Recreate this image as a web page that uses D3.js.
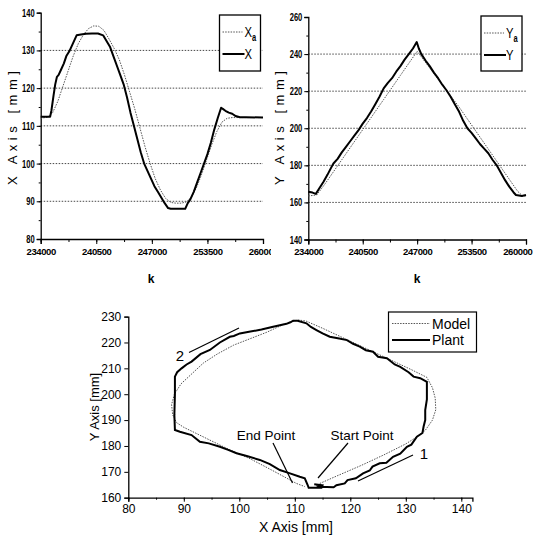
<!DOCTYPE html>
<html><head><meta charset="utf-8">
<script src="https://cdn.jsdelivr.net/npm/d3@7"></script>
<style>
html,body{margin:0;padding:0;background:#fff;}
svg{display:block;}
.narrow{font-family:'Liberation Sans','DejaVu Sans',sans-serif;}
.arial{font-family:'Liberation Sans',Arial,sans-serif;}
</style></head>
<body><svg id="c" width="536" height="539"></svg>
<script>
// ---------- Top-left: X vs k ----------
const kTicks = [234000, 240500, 247000, 253500, 260000];
const xTicksTop = [80, 90, 100, 110, 120, 130, 140];
const yTicksTop = [140, 160, 180, 200, 220, 240, 260];

const kPlantX = [234000,235100,235250,235500,235700,235900,236100,236400,236700,237000,237400,237800,238200,238700,239300,240000,240700,241300,241700,242100,242500,242900,243300,243700,244100,244500,244900,245300,245700,246100,246500,246900,247300,247700,248100,248500,248900,249200,250900,251200,251500,251900,252300,252700,253100,253500,253900,254300,254700,255100,255300,255600,256000,256400,256800,257300,258000,260000];
const plantX = [112.4,112.4,114,118,121,123,123.5,125,126.5,128.5,130,132,134,134.2,134.4,134.5,134.5,134,132.5,131,128.5,126,123.5,121,117.5,113.5,110,106.5,103,100,98,96,94,92.5,91,89.5,88.2,88,88,89.5,90.5,92.5,95,97.5,100,102.5,105.5,109,112,114.8,114.5,114,113.5,113.2,112.6,112.3,112.3,112.2];

const kModelX = [234000,234800,235400,236000,236600,237200,237800,238400,239000,239600,240200,240800,241400,242000,242600,243200,243800,244400,245000,245600,246200,246800,247400,248000,248600,249200,249800,250400,251000,251600,252200,252800,253400,254000,254600,255200,255800,256400,257500,260000];
const modelX = [112,112.3,113.5,116.5,120.5,124.5,128.5,131.8,134.2,135.8,136.5,136.4,135.3,133,130.5,127.5,123.5,119,114.5,109.5,104.5,100,96,93,90.8,89.7,89.5,89.5,89.8,91,93.5,97,101,105,108.5,111,112,112.2,112.2,112.2];

// ---------- Top-right: Y vs k ----------
const kPlantY = [234000,234500,234900,235300,235800,236300,236700,237000,237500,238000,238500,239000,239500,240000,240500,241000,241500,242000,242500,243000,243500,244000,244500,245000,245500,246000,246500,246950,247200,247500,248000,248500,249000,249500,250000,250500,251000,251500,252000,252500,253000,253500,254000,254500,255000,255500,256000,256500,257000,257500,258000,258500,258800,259500,260000];
const plantY = [165.8,165.3,164.6,167.5,171,175,178.5,181,183.5,187,190,193,196,199,202.5,205.5,209,213,217,221.5,224.5,227,230.5,233.5,237,240,243,246.5,243,240,236.5,233.5,230,227,223.5,220.5,217,213,209,204,200,197.5,194.5,191.5,189,186.5,183,180,176,172,168.5,165.5,164,163.5,164];

const kModelY = [234000,235000,236000,237000,238000,239000,240000,241000,242000,243000,244000,245000,246000,247000,248000,249000,250000,251000,252000,253000,254000,255000,256000,257000,258000,259000,259600,260000];
const modelY = [163.5,164,170,176.5,183,189.5,196,202.5,209,215.5,222,228.5,235,241.5,235.5,229.5,223.5,217.5,211.5,205,198.5,192,185.5,179,172.5,166,163.5,163.5];

// ---------- Bottom: XY trajectory ----------
const xTicksBot = [80, 90, 100, 110, 120, 130, 140];
const yTicksBot = [160, 170, 180, 190, 200, 210, 220, 230];
const plantPathX = [113.9,114.5,117,117.5,119,119.5,121,122.3,123.5,124,125.3,126.5,127.7,129,130.2,131,132,133,133.2,133.5,133.5,133.8,133.8,132.6,131.4,130.5,129,128,126.6,125,124.1,122.8,121.7,120.5,119.4,118,116.3,115,113.9,112.9,112.1,110.5,109.7,109.2,108.5,106.1,104,102,100.1,99,98.3,96.5,94.7,93,91.4,90.5,89.6,88.8,88.4,88.4,88.3,88.4,89.3,91.4,92.9,94.5,96.5,98,99.5,101.5,103.7,105.5,107.3,109,110.9,111.8,112.3,112.5,114.8,115,113.5];
const plantPathY = [164.9,164.2,164,164.8,165.5,166.8,167.5,169.4,170.5,172,173.3,173.5,175.8,177,179.7,180.5,183.6,185,187.4,190,193.9,198,204.8,206.2,206.8,208.5,210.6,211.5,213.9,214.5,216.4,217,218.4,219.5,220.9,221.5,222.2,223.5,224.8,226,227.4,228.4,228.4,227.8,227.2,226.1,225,224.2,223.5,222.5,222.2,220,217.1,215.5,212.6,211.5,210,208.5,206.8,200,192,186.2,185.5,184.2,181.6,181,179.7,178.5,177.2,176,174.6,173,170.7,169.5,168.1,167.5,165,163.8,163.8,164.8,165.2];
const modelPathX = [114.5,118,122,126,130,132,133.5,134.8,135.4,135.3,134.8,133.8,131,127,123,119,115,112,110.6,108,105,102,99,96,93.5,91.5,89.5,88.3,87.8,88,88.7,90,94,98,102,106,110.3,111.8];
const modelPathY = [165.5,168.8,172.5,176.5,180.8,183.5,186,190,194,198.5,202.5,206.5,209.5,213.5,217.5,221.5,225.5,228.3,228.7,227,224,221.5,219,215.5,212,208,204,200,196,192,189,187.2,183,178.8,175,170.5,165.5,164.3];

const svg = d3.select('#c');

function condense(sel, perChar){
  sel.each(function(){
    const t = d3.select(this);
    const n = (t.text() || '').length;
    if (n) t.attr('textLength', n*perChar).attr('lengthAdjust','spacingAndGlyphs');
  });
}

function topChart(opts){
  const g = svg.append('g');
  if (opts.clip){
    svg.append('clipPath').attr('id', opts.clip).append('rect').attr('x',0).attr('y',0).attr('width',opts.clipW).attr('height',300);
    g.attr('clip-path', `url(#${opts.clip})`);
  }
  const x = d3.scaleLinear().domain([234000,260000]).range([opts.x0, opts.x1]);
  const y = d3.scaleLinear().domain(opts.yDomain).range([opts.y1, opts.y0]);
  // grid
  g.append('g').selectAll('line').data(opts.grid).join('line')
    .attr('x1', opts.x0).attr('x2', opts.x1)
    .attr('y1', d=>y(d)).attr('y2', d=>y(d))
    .attr('stroke','#333').attr('stroke-width',0.9).attr('stroke-dasharray','1.5,1.5');
  // y axis
  const yMinor = d3.range(opts.yDomain[0], opts.yDomain[1]+0.001, opts.yStep/2);
  const ya = g.append('g').attr('transform',`translate(${opts.x0},0)`)
    .call(d3.axisLeft(y).tickValues(yMinor).tickSize(2).tickFormat(''));
  ya.select('.domain').remove();
  ya.selectAll('line').attr('stroke','#000');
  const yb = g.append('g').attr('transform',`translate(${opts.x0},0)`)
    .call(d3.axisLeft(y).tickValues(opts.yTicks).tickSize(4).tickPadding(2));
  yb.select('.domain').attr('stroke','#000').attr('stroke-width',1.3);
  yb.selectAll('text').attr('class','narrow').attr('font-size',11).attr('fill','#000').attr('font-weight','bold').call(condense, 4.2);
  // x axis
  const kMinor = d3.range(234000, 260001, 3250);
  const xa = g.append('g').attr('transform',`translate(0,${opts.y1})`)
    .call(d3.axisBottom(x).tickValues(kMinor).tickSize(3).tickFormat(''));
  xa.select('.domain').remove();
  const xb = g.append('g').attr('transform',`translate(0,${opts.y1})`)
    .call(d3.axisBottom(x).tickValues(kTicks).tickSize(5).tickPadding(4).tickFormat(d3.format('d')));
  xb.select('.domain').attr('stroke','#000').attr('stroke-width',1.3);
  xb.selectAll('text').attr('class','narrow').attr('font-size',9.5).attr('fill','#000').attr('font-weight','bold').attr('letter-spacing',-0.4);
  if (opts.lastEnd){
    xb.selectAll('text').filter(d=>d===260000).attr('text-anchor','end').attr('x', 532 - opts.x1);
  }
  // lines
  const line = d3.line().x(d=>x(d[0])).y(d=>y(d[1]));
  g.append('path').datum(opts.kModel.map((k,i)=>[k,opts.model[i]])).attr('d',line)
    .attr('fill','none').attr('stroke','#555').attr('stroke-width',1).attr('stroke-dasharray','1.5,1.2');
  g.append('path').datum(opts.kPlant.map((k,i)=>[k,opts.plant[i]])).attr('d',line)
    .attr('fill','none').attr('stroke','#000').attr('stroke-width',2).attr('stroke-linejoin','round');
  // titles
  svg.append('text').attr('class','arial').attr('transform',`translate(${opts.titleX},${opts.titleY}) rotate(-90)`)
    .attr('text-anchor','middle').attr('font-size',13).attr('textLength',114).attr('lengthAdjust','spacing').text(opts.title);
  svg.append('text').attr('class','narrow').attr('x',opts.kX).attr('y',283).attr('text-anchor','middle')
    .attr('font-size',12).attr('font-weight','bold').text('k');
  // legend
  const L = opts.leg;
  svg.append('rect').attr('x',L.x).attr('y',L.y).attr('width',L.w).attr('height',L.h)
    .attr('fill','#fff').attr('stroke','#000').attr('stroke-width',1.3);
  svg.append('line').attr('x1',L.x+3).attr('x2',L.x+23).attr('y1',L.y+17).attr('y2',L.y+17)
    .attr('stroke','#555').attr('stroke-dasharray','1.5,1.2');
  svg.append('line').attr('x1',L.x+3).attr('x2',L.x+25).attr('y1',L.y+39).attr('y2',L.y+39)
    .attr('stroke','#000').attr('stroke-width',2);
  const t1 = svg.append('text').attr('class','narrow').attr('transform',`translate(${L.x+25},${L.y+22}) scale(0.75,1)`).attr('font-size',15);
  t1.append('tspan').text(opts.sym);
  t1.append('tspan').attr('font-size',10).attr('font-weight','bold').attr('dy',4).text('a');
  svg.append('text').attr('class','narrow').attr('transform',`translate(${L.x+25},${L.y+44}) scale(0.75,1)`).attr('font-size',15).text(opts.sym);
}

topChart({x0:40.7, x1:263, y0:12.7, y1:239, yDomain:[80,140], yStep:10, yTicks:xTicksTop, grid:[90,100,110,120,130],
  kPlant:kPlantX, plant:plantX, kModel:kModelX, model:modelX, title:'X Axis [mm]', titleX:17, titleY:128, kX:151,
  leg:{x:219.5,y:15,w:41,h:56}, sym:'X', clip:'clipL', clipW:271});
topChart({x0:308.3, x1:526, y0:17, y1:239.5, yDomain:[140,260], yStep:20, yTicks:yTicksTop, grid:[160,180,200,220,240],
  kPlant:kPlantY, plant:plantY, kModel:kModelY, model:modelY, title:'Y Axis [mm]', titleX:284, titleY:128, kX:417,
  leg:{x:481,y:16,w:41,h:55}, sym:'Y', lastEnd:true});

// ---------- Bottom chart ----------
const bx = d3.scaleLinear().domain([80,142]).range([128.3, 472.4]);
const by = d3.scaleLinear().domain([160,230]).range([497.7, 316.6]);
const gb = svg.append('g');
const bxMinor = d3.range(80, 141, 5);
const bxa = gb.append('g').attr('transform','translate(0,497.7)')
  .call(d3.axisBottom(bx).tickValues(bxMinor).tickSize(2).tickFormat(''));
bxa.select('.domain').remove();
const bxb = gb.append('g').attr('transform','translate(0,497.7)')
  .call(d3.axisBottom(bx).tickValues(xTicksBot).tickSize(4).tickPadding(3));
bxb.select('.domain').attr('stroke','#000').attr('stroke-width',1.3);
bxb.selectAll('text').attr('class','arial').attr('font-size',12).attr('fill','#000');
const bya = gb.append('g').attr('transform','translate(128.3,0)')
  .call(d3.axisLeft(by).tickValues(yTicksBot).tickSize(4).tickPadding(3));
bya.select('.domain').attr('stroke','#000').attr('stroke-width',1.3);
bya.selectAll('text').attr('class','arial').attr('font-size',12).attr('fill','#000');

const pl = d3.line().x(d=>bx(d[0])).y(d=>by(d[1]));
gb.append('path').datum(modelPathX.map((v,i)=>[v,modelPathY[i]])).attr('d',pl)
  .attr('fill','none').attr('stroke','#555').attr('stroke-width',1).attr('stroke-dasharray','1.5,1.2');
gb.append('path').datum(plantPathX.map((v,i)=>[v,plantPathY[i]])).attr('d',pl)
  .attr('fill','none').attr('stroke','#000').attr('stroke-width',2).attr('stroke-linejoin','miter');

svg.append('text').attr('class','arial').attr('x',296).attr('y',532).attr('text-anchor','middle').attr('font-size',14).text('X Axis [mm]');
svg.append('text').attr('class','arial').attr('transform','translate(99,407) rotate(-90)').attr('text-anchor','middle').attr('font-size',13).text('Y Axis [mm]');

// annotations
svg.append('text').attr('class','arial').attr('x',266).attr('y',440).attr('text-anchor','middle').attr('font-size',13.5).text('End Point');
svg.append('text').attr('class','arial').attr('x',362).attr('y',440).attr('text-anchor','middle').attr('font-size',13.5).text('Start Point');
svg.append('text').attr('class','arial').attr('x',180).attr('y',361).attr('text-anchor','middle').attr('font-size',15).text('2');
svg.append('text').attr('class','arial').attr('x',424).attr('y',459).attr('text-anchor','middle').attr('font-size',15).text('1');
const seg = [[189,352.5,239,328],[358,481,413,455],[273,443,292.5,483],[348,443,318,478]];
svg.append('g').selectAll('line').data(seg).join('line')
  .attr('x1',d=>d[0]).attr('y1',d=>d[1]).attr('x2',d=>d[2]).attr('y2',d=>d[3])
  .attr('stroke','#000').attr('stroke-width',1.2);

// bottom legend
svg.append('rect').attr('x',388.5).attr('y',312).attr('width',88).attr('height',40)
  .attr('fill','#fff').attr('stroke','#000').attr('stroke-width',1.2);
svg.append('line').attr('x1',392).attr('x2',430).attr('y1',323.5).attr('y2',323.5)
  .attr('stroke','#555').attr('stroke-dasharray','1.5,1.2');
svg.append('line').attr('x1',392).attr('x2',430).attr('y1',340).attr('y2',340)
  .attr('stroke','#000').attr('stroke-width',2);
svg.append('text').attr('class','arial').attr('x',432).attr('y',328.5).attr('font-size',14).text('Model');
svg.append('text').attr('class','arial').attr('x',432).attr('y',345).attr('font-size',14).text('Plant');
</script></body></html>
